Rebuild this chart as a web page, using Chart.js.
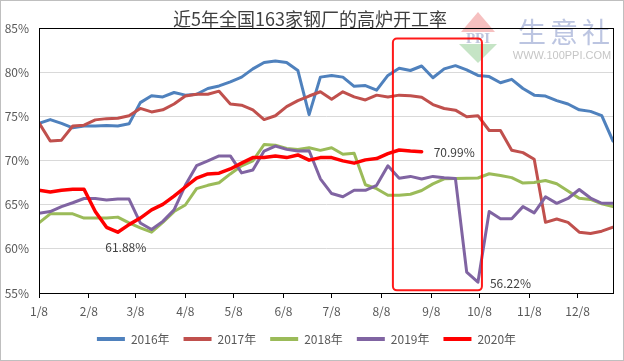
<!DOCTYPE html>
<html>
<head>
<meta charset="utf-8">
<script src="https://cdn.jsdelivr.net/npm/chart.js@4.4.0/dist/chart.umd.min.js"></script>
<style>
  html, body { margin: 0; padding: 0; background: #fff; }
  canvas { display: block; }
</style>
</head>
<body>
<canvas id="grafico" width="624" height="361"></canvas>
<script>
// weekly dates (plotted on one shared calendar axis)
const semanas = ['1/8','1/15','1/22','1/29','2/5','2/12','2/19','2/26','3/4','3/11','3/18','3/25',
  '4/1','4/8','4/15','4/22','4/29','5/6','5/13','5/20','5/27','6/3','6/10','6/17','6/24',
  '7/1','7/8','7/15','7/22','7/29','8/5','8/12','8/19','8/26','9/2','9/9','9/16','9/23','9/30',
  '10/7','10/14','10/21','10/28','11/4','11/11','11/18','11/25','12/2','12/9','12/16','12/23','12/30'];
const meses = ['1/8','2/8','3/8','4/8','5/8','6/8','7/8','8/8','9/8','10/8','11/8','12/8'];
const anos = ['2016年','2017年','2018年','2019年','2020年'];

const v2016 = [74.2,74.63,74.2,73.7,73.9,73.9,73.96,73.9,74.15,76.55,77.33,77.2,77.7,77.4,77.5,78.15,78.44,78.9,
  79.44,80.37,81.1,81.26,81.1,80.19,75.19,79.44,79.63,79.44,78.4,78.48,77.96,79.63,80.44,80.19,80.7,79.37,
  80.37,80.74,80.26,79.63,79.5,78.8,79.19,78.15,77.4,77.3,76.78,76.4,75.74,75.56,75.07,72.2];
const v2017 = [74.26,72.2,72.3,73.9,74.0,74.6,74.74,74.78,75.07,75.9,75.5,75.74,76.4,77.3,77.5,77.5,77.85,76.4,
  76.26,75.74,74.63,75.07,76.1,76.78,77.3,77.78,76.93,77.78,77.2,76.85,77.4,77.2,77.4,77.33,77.15,76.33,
  75.89,75.7,74.96,75.07,73.4,73.4,71.15,70.89,70.15,63.0,63.37,63.0,61.89,61.74,62.0,62.44];
const v2018 = [62.93,63.96,63.96,63.96,63.48,63.48,63.48,63.59,62.93,62.37,61.89,63.0,64.22,64.96,66.81,67.19,
  67.48,68.48,69.4,69.96,71.81,71.74,71.37,71.26,71.44,71.15,71.44,70.7,70.81,67.25,66.81,66.07,66.07,66.18,
  66.6,67.35,67.93,67.95,68.0,68.02,68.5,68.3,68.06,67.44,67.52,67.74,67.37,66.55,65.72,65.59,65.1,64.78];
const v2019 = [64.04,64.22,64.78,65.22,65.7,65.7,65.52,65.63,65.63,62.93,62.19,63.11,64.41,67.19,69.41,69.96,
  70.52,70.52,68.6,68.93,71.07,71.63,71.26,71.07,71.1,67.93,66.26,65.89,66.63,66.63,67.19,69.41,68.0,68.2,
  67.9,68.2,68.04,67.95,57.37,56.22,64.22,63.4,63.4,64.78,64.07,65.89,65.15,65.7,66.72,65.75,65.16,65.16];
const v2020 = [66.63,66.44,66.63,66.74,66.74,64.22,62.44,61.88,62.74,63.48,64.41,65.04,65.96,67.0,68.0,68.48,
  68.56,69.04,69.7,70.33,70.33,70.52,70.33,70.63,70.04,70.33,70.33,69.96,69.7,70.07,70.22,70.78,71.19,71.07,70.99];

const cores = ['#4F81BD','#C0504D','#9BBB59','#8064A2','#FF0000'];
const series = [v2016, v2017, v2018, v2019, v2020];
// points that carry a value label: [series index, week index]
const rotulos = [[4, 7], [4, 34], [3, 39]];
// highlighted window (week range and value range)
const destaque = { de: '8/12', ate: '10/7', min: 55.3, max: 83.8 };

const fonte = '"Noto Sans CJK SC", "Noto Sans", sans-serif';

function diaDoAno(md) {
  const [m, d] = md.split('/').map(Number);
  return (Date.UTC(2020, m - 1, d) - Date.UTC(2020, 0, 8)) / 86400000;
}

const datasets = series.map((vals, s) => ({
  label: anos[s],
  data: vals.map((v, i) => ({ x: diaDoAno(semanas[i]), y: v })),
  borderColor: cores[s],
  backgroundColor: cores[s],
  borderWidth: s === 4 ? 3.5 : 3,
  pointRadius: 0,
  tension: 0,
  fill: false,
  borderJoinStyle: 'round',
  borderCapStyle: 'round',
  order: 5 - s
}));

const enfeites = {
  id: 'enfeites',
  beforeDraw(chart) {
    const c = chart.ctx;
    c.save();
    c.fillStyle = '#fff';
    c.fillRect(0, 0, chart.width, chart.height);
    c.strokeStyle = '#bfbfbf';
    c.lineWidth = 1;
    c.strokeRect(0.5, 0.5, chart.width - 1, chart.height - 1);
    // title
    c.fillStyle = '#404040';
    c.font = '18px ' + fonte;
    c.textAlign = 'center';
    c.textBaseline = 'middle';
    c.fillText('近5年全国163家钢厂的高炉开工率', 310, 19);
    c.restore();
  },
  beforeDatasetsDraw(chart) {
    const c = chart.ctx;
    c.save();
    // watermark
    c.fillStyle = 'rgba(238,140,140,0.55)';
    c.beginPath(); c.moveTo(478, 12); c.lineTo(495, 32); c.lineTo(461, 32); c.closePath(); c.fill();
    c.fillStyle = 'rgba(150,205,150,0.55)';
    c.beginPath(); c.moveTo(459, 44); c.lineTo(497, 44); c.lineTo(478, 63); c.closePath(); c.fill();
    c.fillStyle = 'rgba(150,160,200,0.6)';
    c.font = 'bold 15px "Liberation Serif", serif';
    c.textAlign = 'center'; c.textBaseline = 'middle';
    c.fillText('PPI', 478, 39);
    c.fillStyle = 'rgba(165,178,215,0.75)';
    c.font = '28px ' + fonte;
    ['生', '意', '社'].forEach((ch, k) => c.fillText(ch, 532 + k * 32, 32));
    c.fillStyle = '#c6c6c6';
    c.font = '11px "Liberation Sans", sans-serif';
    c.fillText('WWW.100PPI.COM', 562, 56);
    c.restore();
  },
  afterDatasetsDraw(chart) {
    const c = chart.ctx, a = chart.chartArea;
    const x = chart.scales.x, y = chart.scales.y;
    c.save();
    c.strokeStyle = '#000';
    c.lineWidth = 1;
    c.strokeRect(Math.round(a.left) + 0.5, Math.round(a.top) + 0.5, Math.round(a.right - a.left), Math.round(a.bottom - a.top));
    // highlight box
    const x0 = x.getPixelForValue(diaDoAno(destaque.de)) + 5;
    const x1 = x.getPixelForValue(diaDoAno(destaque.ate)) + 4;
    const y0 = y.getPixelForValue(destaque.max), y1 = y.getPixelForValue(destaque.min);
    c.strokeStyle = 'rgba(255,0,0,0.9)';
    c.lineWidth = 2;
    c.beginPath();
    c.roundRect(x0, y0, x1 - x0, y1 - y0, 4);
    c.stroke();
    // value labels
    c.fillStyle = '#404040';
    c.font = '12px ' + fonte;
    c.textBaseline = 'middle';
    rotulos.forEach(([s, i], k) => {
      const p = chart.getDatasetMeta(s).data[i];
      const txt = series[s][i].toFixed(2) + '%';
      if (k === 0) { c.textAlign = 'center'; c.fillText(txt, p.x + 8, p.y + 15); }
      else { c.textAlign = 'left'; c.fillText(txt, p.x + 12, p.y + 1); }
    });
    c.restore();
  }
};

new Chart(document.getElementById('grafico').getContext('2d'), {
  type: 'line',
  data: { datasets },
  plugins: [enfeites],
  options: {
    responsive: false,
    animation: false,
    layout: { padding: { top: 28, right: 11, left: 0, bottom: 6 } },
    plugins: {
      title: { display: false },
      tooltip: { enabled: false },
      legend: {
        position: 'bottom',
        labels: {
          boxWidth: 28,
          boxHeight: 4,
          padding: 14,
          color: '#595959',
          font: { size: 12, family: fonte },
          sort: (a, b) => a.datasetIndex - b.datasetIndex,
          generateLabels: chart => Chart.defaults.plugins.legend.labels.generateLabels(chart)
            .map(l => Object.assign(l, { fillStyle: l.strokeStyle, lineWidth: 0 }))
        }
      }
    },
    scales: {
      x: {
        type: 'linear',
        min: 0,
        max: diaDoAno(semanas[semanas.length - 1]),
        afterBuildTicks: s => { s.ticks = meses.map(m => ({ value: diaDoAno(m) })); },
        afterFit: s => { s.height = 26; },
        ticks: {
          autoSkip: false, maxRotation: 0, padding: 6,
          color: '#595959', font: { size: 12, family: fonte },
          callback: (v, i) => meses[i]
        },
        grid: { drawOnChartArea: false, drawTicks: true, tickLength: 5, tickColor: '#000' },
        border: { color: '#000' }
      },
      y: {
        min: 55, max: 85,
        afterFit: s => { s.width = 39; },
        ticks: {
          stepSize: 5, padding: 10,
          color: '#595959', font: { size: 12, family: fonte },
          callback: v => v + '%'
        },
        grid: { color: '#d9d9d9', drawTicks: false },
        border: { color: '#000' }
      }
    }
  }
});
</script>
</body>
</html>
